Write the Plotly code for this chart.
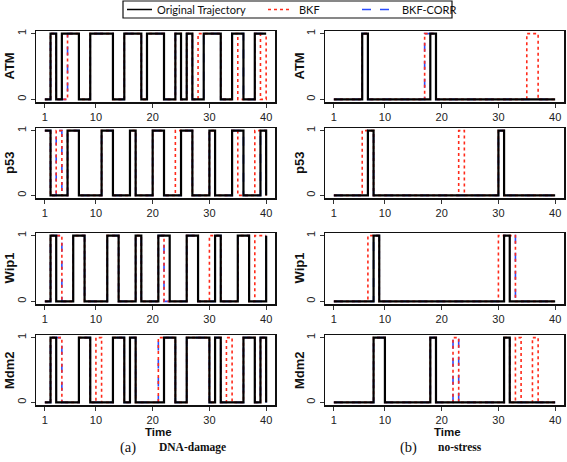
import plotly.graph_objects as go

W, H = 567, 462

time = list(range(1, 41))
genes = ["ATM", "p53", "Wip1", "Mdm2"]
x_ticks = [1, 10, 20, 30, 40]
y_ticks = [0, 1]

# ---- (a) DNA-damage ----
dna_orig = {
    "ATM":  [0,1,0,1,1,1,0,0,1,1, 1,1,0,0,1,1,1,0,1,1, 1,0,0,1,0,1,0,0,1,1, 1,0,0,1,1,0,0,1,1,1],
    "p53":  [1,0,0,0,1,1,0,0,0,0, 1,1,0,0,0,1,0,0,0,1, 1,0,0,0,1,1,0,0,0,1, 0,0,0,1,1,0,0,0,1,0],
    "Wip1": [0,1,0,0,0,1,1,0,0,0, 0,1,1,0,0,0,1,0,0,0, 1,1,0,0,0,1,1,0,0,0, 1,0,0,0,1,1,0,0,0,1],
    "Mdm2": [0,1,0,0,0,0,1,1,0,0, 0,0,1,1,0,1,0,0,0,0, 0,1,1,0,0,1,1,1,1,0, 1,0,0,0,0,1,1,0,1,0],
}
dna_bkf = {
    "ATM":  [0,1,0,0,1,1,0,0,1,1, 1,1,0,0,1,1,1,0,1,1, 1,0,0,1,0,1,0,1,1,1, 1,0,0,1,0,0,0,1,0,1],
    "p53":  [1,0,1,0,1,1,0,0,0,0, 1,1,0,0,0,1,0,0,0,1, 1,0,0,1,1,1,0,0,0,1, 0,0,0,1,0,0,0,1,1,0],
    "Wip1": [0,1,1,0,0,1,1,0,0,0, 0,1,1,0,0,0,1,0,0,0, 1,0,0,0,0,1,1,0,0,1, 1,0,0,0,1,1,0,1,1,1],
    "Mdm2": [0,1,1,0,0,0,1,1,0,1, 0,0,1,1,0,1,0,0,0,0, 1,1,1,0,0,1,1,1,1,0, 1,0,1,0,0,1,1,0,1,0],
}
dna_corr = {
    "ATM":  [0,1,0,0,1,1,0,0,1,1, 1,1,0,0,1,1,1,0,1,1, 1,0,0,1,0,1,0,0,1,1, 1,0,0,1,1,0,0,1,1,1],
    "p53":  [1,0,1,0,1,1,0,0,0,0, 1,1,0,0,0,1,0,0,0,1, 1,0,0,0,1,1,0,0,0,1, 0,0,0,1,1,0,0,0,1,0],
    "Wip1": [0,1,1,0,0,1,1,0,0,0, 0,1,1,0,0,0,1,0,0,0, 1,0,0,0,0,1,1,0,0,0, 1,0,0,0,1,1,0,0,0,1],
    "Mdm2": [0,1,1,0,0,0,1,1,0,0, 0,0,1,1,0,1,0,0,0,0, 1,1,1,0,0,1,1,1,1,0, 1,0,0,0,0,1,1,0,1,0],
}

# ---- (b) no-stress ----
ns_orig = {
    "ATM":  [0,0,0,0,0,1,0,0,0,0, 0,0,0,0,0,0,0,1,0,0, 0,0,0,0,0,0,0,0,0,0, 0,0,0,0,0,0,0,0,0,0],
    "p53":  [0,0,0,0,0,0,1,0,0,0, 0,0,0,0,0,0,0,0,0,0, 0,0,0,0,0,0,0,0,0,1, 0,0,0,0,0,0,0,0,0,0],
    "Wip1": [0,0,0,0,0,0,0,1,0,0, 0,0,0,0,0,0,0,0,0,0, 0,0,0,0,0,0,0,0,0,0, 1,0,0,0,0,0,0,0,0,0],
    "Mdm2": [0,0,0,0,0,0,0,1,1,0, 0,0,0,0,0,0,0,1,0,0, 0,0,0,0,0,0,0,0,0,0, 1,0,0,0,0,0,0,0,0,0],
}
ns_bkf = {
    "ATM":  [0,0,0,0,0,1,0,0,0,0, 0,0,0,0,0,0,1,1,0,0, 0,0,0,0,0,0,0,0,0,0, 0,0,0,0,1,1,0,0,0,0],
    "p53":  [0,0,0,0,0,1,1,0,0,0, 0,0,0,0,0,0,0,0,0,0, 0,0,1,0,0,0,0,0,0,1, 0,0,0,0,0,0,0,0,0,0],
    "Wip1": [0,0,0,0,0,0,1,1,0,0, 0,0,0,0,0,0,0,0,0,0, 0,0,0,0,0,0,0,0,0,1, 1,1,0,0,0,0,0,0,0,0],
    "Mdm2": [0,0,0,0,0,0,0,1,1,0, 0,0,0,0,0,0,0,1,0,0, 0,1,0,0,0,0,0,0,0,0, 1,0,1,0,0,1,0,0,0,0],
}
ns_corr = {
    "ATM":  [0,0,0,0,0,1,0,0,0,0, 0,0,0,0,0,0,1,1,0,0, 0,0,0,0,0,0,0,0,0,0, 0,0,0,0,0,0,0,0,0,0],
    "p53":  [0,0,0,0,0,0,1,0,0,0, 0,0,0,0,0,0,0,0,0,0, 0,0,0,0,0,0,0,0,0,1, 0,0,0,0,0,0,0,0,0,0],
    "Wip1": [0,0,0,0,0,0,0,1,0,0, 0,0,0,0,0,0,0,0,0,0, 0,0,0,0,0,0,0,0,0,0, 1,1,0,0,0,0,0,0,0,0],
    "Mdm2": [0,0,0,0,0,0,0,1,1,0, 0,0,0,0,0,0,0,1,0,0, 0,1,0,0,0,0,0,0,0,0, 1,0,0,0,0,0,0,0,0,0],
}

series_names = ["Original Trajectory", "BKF", "BKF-CORR"]
colors = {"Original Trajectory": "#000000", "BKF": "#ff2a1a", "BKF-CORR": "#2a4dff"}

def px(x):
    return x / W

def py(y):
    return 1 - y / H

col_px = [(36, 275), (325, 564)]
row_px = [(31, 102), (128, 198), (233, 304), (335, 405)]

fig = go.Figure()
panels = [(dna_orig, dna_bkf, dna_corr), (ns_orig, ns_bkf, ns_corr)]

k = 0
for c, (orig, bkf, corr) in enumerate(panels):
    for r, g in enumerate(genes):
        k += 1
        xa = "x" if k == 1 else f"x{k}"
        ya = "y" if k == 1 else f"y{k}"
        fig.add_trace(go.Scatter(x=time, y=corr[g], mode="lines", line_shape="hv",
                                 line=dict(color=colors["BKF-CORR"], width=1.6, dash="dash"),
                                 xaxis=xa, yaxis=ya, showlegend=False, hoverinfo="skip"))
        fig.add_trace(go.Scatter(x=time, y=bkf[g], mode="lines", line_shape="hv",
                                 line=dict(color=colors["BKF"], width=1.6, dash="dot"),
                                 xaxis=xa, yaxis=ya, showlegend=False, hoverinfo="skip"))
        fig.add_trace(go.Scatter(x=time, y=orig[g], mode="lines", line_shape="hv",
                                 line=dict(color=colors["Original Trajectory"], width=2.2),
                                 xaxis=xa, yaxis=ya, showlegend=False, hoverinfo="skip"))
        x0, x1 = col_px[c]
        y0, y1 = row_px[r]
        axis_common = dict(showline=True, mirror=True, linecolor="#111", linewidth=1.5,
                           showgrid=False, zeroline=False, ticks="outside", ticklen=4,
                           tickwidth=1, tickcolor="#333", automargin=False,
                           tickfont=dict(family="Liberation Sans, Arial", size=11, color="#222"))
        xkey = "xaxis" if k == 1 else f"xaxis{k}"
        ykey = "yaxis" if k == 1 else f"yaxis{k}"
        fig.layout[xkey] = dict(domain=[px(x0), px(x1)], anchor=ya, range=[-0.56, 41.56],
                                tickvals=x_ticks, **axis_common)
        fig.layout[ykey] = dict(domain=[py(y1), py(y0)], anchor=xa, range=[-0.04, 1.04],
                                tickvals=y_ticks, tickangle=-90, **axis_common)
        # y title
        fig.add_annotation(x=px([9, 299][c]), y=py((y0 + y1) / 2), xref="paper", yref="paper",
                           text=f"<b>{g}</b>", textangle=-90, showarrow=False,
                           xanchor="center", yanchor="middle",
                           font=dict(family="Liberation Sans, Arial", size=13, color="#111"))

# x titles and captions
for c, (cap_l, cap_r) in enumerate([("(a)", "DNA-damage"), ("(b)", "no-stress")]):
    x0, x1 = col_px[c]
    fig.add_annotation(x=px((x0 + x1) / 2 + 3), y=py(432), xref="paper", yref="paper",
                       text="<b>Time</b>", showarrow=False, xanchor="center", yanchor="middle",
                       font=dict(family="Liberation Sans, Arial", size=11.5, color="#111"))
    fig.add_annotation(x=px([128, 408][c]), y=py(447), xref="paper", yref="paper",
                       text=cap_l, showarrow=False, xanchor="center", yanchor="middle",
                       font=dict(family="Liberation Serif, Times New Roman", size=14.5, color="#111"))
    fig.add_annotation(x=px([157, 436][c]), y=py(447), xref="paper", yref="paper",
                       text=f"<b>{cap_r}</b>", showarrow=False, xanchor="left", yanchor="middle",
                       font=dict(family="Liberation Serif, Times New Roman", size=11.5, color="#111"))

# legend box
fig.add_shape(type="rect", xref="paper", yref="paper", x0=px(123), x1=px(452), y0=py(18), y1=py(1),
              line=dict(color="#111", width=1.2), fillcolor="white")
leg = [("Original Trajectory", 127, 152, 155, "solid"),
       ("BKF", 268, 290, 297, "dot"),
       ("BKF-CORR", 362, 392, 400, "dash")]
for name, lx0, lx1, tx, dash in leg:
    fig.add_shape(type="line", xref="paper", yref="paper", x0=px(lx0), x1=px(lx1), y0=py(9.5), y1=py(9.5),
                  line=dict(color=colors[name], width=1.6 if name != "Original Trajectory" else 1.5, dash=dash))
    fig.add_annotation(x=px(tx), y=py(9.5), xref="paper", yref="paper", text=name, showarrow=False,
                       xanchor="left", yanchor="middle",
                       font=dict(family="Lato, Open Sans", size=11, color="#111"))

fig.update_layout(template="none", width=W, height=H, margin=dict(l=0, r=0, t=0, b=0, pad=0),
                  paper_bgcolor="white", plot_bgcolor="white", showlegend=False)

fig.write_html("out.html", config={"displayModeBar": False, "staticPlot": True},
               post_script="document.body.style.margin='0px';document.body.style.padding='0px';document.body.style.overflow='hidden';")
